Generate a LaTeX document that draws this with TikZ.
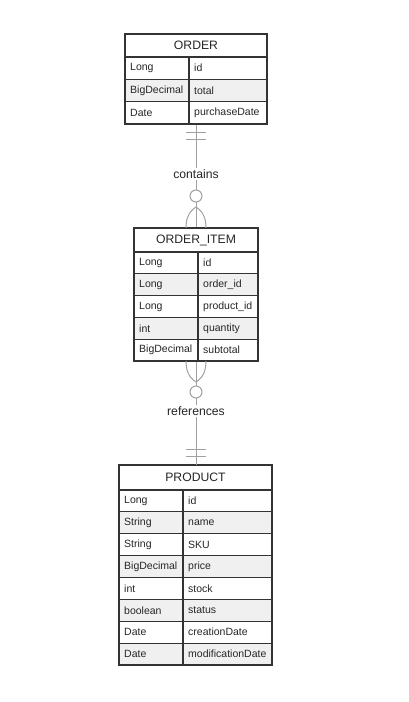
\documentclass[tikz,border=0pt]{standalone}
\usepackage{fontspec}
\setmainfont{Liberation Sans}
\definecolor{rowfill1}{HTML}{FFFFFF}
\definecolor{rowfill0}{HTML}{F0F0F0}
\definecolor{eborder}{HTML}{333333}
\definecolor{conncol}{HTML}{A0A0A0}
\definecolor{txtcol}{HTML}{262626}
\tikzset{
  ebox/.style={draw=eborder, line width=1.3pt, rectangle, inner sep=0pt},
  eline/.style={draw=eborder, line width=1.1pt},
  typ/.style={anchor=west, inner sep=0pt, text=txtcol, font=\fontsize{10.5}{12}\selectfont},
  nam/.style={anchor=west, inner sep=0pt, text=txtcol, font=\fontsize{10.5}{12}\selectfont},
  hdr/.style={inner sep=0pt, text=txtcol, font=\fontsize{12.2}{14}\selectfont},
  conn/.style={draw=conncol, line width=1pt},
  rlabel/.style={fill=white, inner sep=1.5pt, text=txtcol, font=\fontsize{12.2}{14}\selectfont},
  optcirc/.style={draw=conncol, line width=1pt, fill=white, circle, minimum size=12pt, inner sep=0pt}
}
\begin{document}
\begin{tikzpicture}[x=1pt,y=-1pt]
\useasboundingbox (0,0) rectangle (408,702);
\fill[white] (0,0) rectangle (408,702);

% ---------- ORDER ----------
\foreach \t/\n [count=\i] in {Long/id,BigDecimal/total,Date/purchaseDate} {
  \pgfmathsetmacro\ya{57+(\i-1)*22.33}
  \pgfmathsetmacro\yb{\ya+22.33}
  \pgfmathtruncatemacro\m{mod(\i,2)}
  \fill[rowfill\m] (125,\ya) rectangle (267,\yb);
}
\foreach \t/\n [count=\i] in {Long/id,BigDecimal/total,Date/purchaseDate} {
  \pgfmathsetmacro\ya{57+(\i-1)*22.33}
  \pgfmathsetmacro\yb{\ya+22.33}
  \pgfmathsetmacro\ym{\ya+11.17}
  \draw[eline] (125,\yb) -- (267,\yb);
  \node[typ] (order-t\i) at (130,\ym) {\t};
  \node[nam] (order-n\i) at (194,\ym) {\n};
}
\draw[eline] (125,57) -- (267,57);
\draw[eline] (189,57) -- (189,124);
\node[hdr] (order-h) at (196,45.5) {ORDER};
\node[ebox, minimum width=142pt, minimum height=90pt] (order) at (196,79) {};

% ---------- ORDER_ITEM ----------
\foreach \t/\n [count=\i] in {Long/id,Long/order\_id,Long/product\_id,int/quantity,BigDecimal/subtotal} {
  \pgfmathsetmacro\ya{252+(\i-1)*21.8}
  \pgfmathsetmacro\yb{\ya+21.8}
  \pgfmathtruncatemacro\m{mod(\i,2)}
  \fill[rowfill\m] (134,\ya) rectangle (258,\yb);
}
\foreach \t/\n [count=\i] in {Long/id,Long/order\_id,Long/product\_id,int/quantity,BigDecimal/subtotal} {
  \pgfmathsetmacro\ya{252+(\i-1)*21.8}
  \pgfmathsetmacro\yb{\ya+21.8}
  \pgfmathsetmacro\ym{\ya+10.9}
  \draw[eline] (134,\yb) -- (258,\yb);
  \node[typ] (item-t\i) at (139,\ym) {\t};
  \node[nam] (item-n\i) at (203,\ym) {\n};
}
\draw[eline] (134,252) -- (258,252);
\draw[eline] (198,252) -- (198,361);
\node[hdr] (item-h) at (196,240) {ORDER\_ITEM};
\node[ebox, minimum width=124pt, minimum height=133pt] (item) at (196,294.5) {};

% ---------- PRODUCT ----------
\foreach \t/\n [count=\i] in {Long/id,String/name,String/SKU,BigDecimal/price,int/stock,boolean/status,Date/creationDate,Date/modificationDate} {
  \pgfmathsetmacro\ya{490+(\i-1)*21.875}
  \pgfmathsetmacro\yb{\ya+21.875}
  \pgfmathtruncatemacro\m{mod(\i,2)}
  \fill[rowfill\m] (119,\ya) rectangle (272,\yb);
}
\foreach \t/\n [count=\i] in {Long/id,String/name,String/SKU,BigDecimal/price,int/stock,boolean/status,Date/creationDate,Date/modificationDate} {
  \pgfmathsetmacro\ya{490+(\i-1)*21.875}
  \pgfmathsetmacro\yb{\ya+21.875}
  \pgfmathsetmacro\ym{\ya+10.94}
  \draw[eline] (119,\yb) -- (272,\yb);
  \node[typ] (prod-t\i) at (124,\ym) {\t};
  \node[nam] (prod-n\i) at (188,\ym) {\n};
}
\draw[eline] (119,490) -- (272,490);
\draw[eline] (183,490) -- (183,665);
\node[hdr] (prod-h) at (195.5,477.5) {PRODUCT};
\node[ebox, minimum width=153pt, minimum height=200pt] (product) at (195.5,565) {};

% ---------- ORDER -- ORDER_ITEM ----------
\coordinate (c1apex) at (196,207);
\draw[conn] (order.south) -- (item.north);
\draw[conn] (186,132) -- (206,132);
\draw[conn] (186,139) -- (206,139);
\draw[conn] (c1apex) .. controls (188,212) and (186,220) .. (186,228);
\draw[conn] (c1apex) .. controls (204,212) and (206,220) .. (206,228);
\node[rlabel] (lab1) at (196,174) {contains};
\node[optcirc] (circ1) at (196,196) {};

% ---------- ORDER_ITEM -- PRODUCT ----------
\coordinate (c2apex) at (196,382);
\draw[conn] (item.south) -- (196,465);
\draw[conn] (186,449) -- (206,449);
\draw[conn] (186,456) -- (206,456);
\draw[conn] (c2apex) .. controls (188,377) and (186,369) .. (186,361);
\draw[conn] (c2apex) .. controls (204,377) and (206,369) .. (206,361);
\node[rlabel] (lab2) at (196,411) {references};
\node[optcirc] (circ2) at (196,392) {};
\end{tikzpicture}
\end{document}
